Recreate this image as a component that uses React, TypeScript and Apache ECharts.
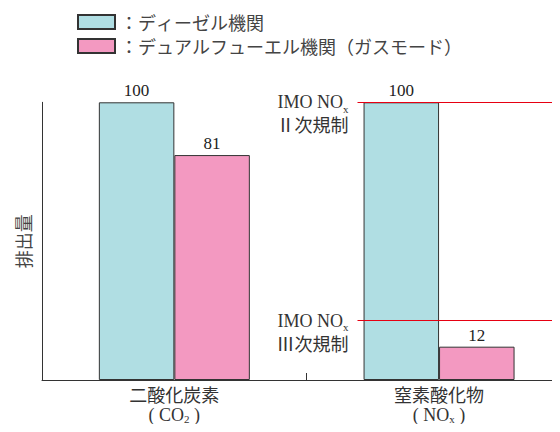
import React, { useEffect, useRef } from "react";
import * as echarts from "echarts";

const categories = ["二酸化炭素\n( CO{sub|2} )", "窒素酸化物\n( NO{sub|x} )"];
const seriesNames = ["ディーゼル機関", "デュアルフューエル機関（ガスモード）"];
const dieselValues = [100, 100];
const dualFuelValues = [81, 12];
const regulationLevels = [100, 21.4];
const regulationLabels = ["{a|IMO NO}{s|x}\n{a|Ⅱ次規制}", "{a|IMO NO}{s|x}\n{a|Ⅲ次規制}"];
const yAxisName = "排出量";

const SERIF = "'Liberation Serif', 'Noto Sans CJK JP', serif";
const JP = "'Noto Sans CJK JP', sans-serif";

export default function App() {
  const ref = useRef<HTMLDivElement>(null);
  useEffect(() => {
    if (!ref.current) return;
    const chart = echarts.init(ref.current, undefined, { renderer: "svg" });
    const markData = regulationLevels.map((v, i) => [
      {
        x: 357.5,
        yAxis: v,
        label: { formatter: regulationLabels[i] },
      },
      { x: 560, yAxis: v },
    ]);
    const catLabels = categories.map((c) =>
      c
        .split("\n")
        .map((line) => line.replace(/^([^{]+)/, "{t|$1}").replace(/\}([^{]+)$/, "}{t|$1}"))
        .join("\n")
    );
    chart.setOption({
      animation: false,
      legend: {
        orient: "vertical",
        left: 72,
        top: 8,
        itemWidth: 37,
        itemHeight: 14,
        itemGap: 6,
        icon: "rect",
        data: seriesNames,
        formatter: (n: string) =>
          Array.from("：" + n)
            .map((ch) => `{c|${ch}}`)
            .join(""),
        textStyle: {
          fontSize: 18,
          lineHeight: 18,
          color: "#444",
          fontFamily: JP,
          rich: {
            c: { width: 18, lineHeight: 18, align: "center", fontSize: 18, color: "#444", fontFamily: JP },
          },
        },
        selectedMode: false,
      },
      grid: {
        left: 42,
        top: 102.3,
        bottom: 52,
        width: 529.4,
        containLabel: false,
        outerBoundsMode: "none",
      },
      xAxis: {
        type: "category",
        data: catLabels,
        axisLine: { lineStyle: { color: "#333", width: 1 } },
        axisTick: { show: true, inside: true, length: 7, lineStyle: { color: "#333" } },
        axisLabel: {
          interval: 0,
          margin: 6,
          fontSize: 18,
          lineHeight: 19,
          color: "#333",
          fontFamily: SERIF,
          rich: {
            t: { fontSize: 18, lineHeight: 19, color: "#333", fontFamily: SERIF },
            sub: { fontSize: 11, lineHeight: 11, verticalAlign: "bottom", color: "#333", fontFamily: SERIF },
          },
        },
      },
      yAxis: {
        type: "value",
        min: 0,
        max: 100,
        name: yAxisName,
        nameLocation: "middle",
        nameGap: 10,
        nameTextStyle: { fontSize: 18, color: "#444", fontFamily: JP },
        axisLine: { show: true, lineStyle: { color: "#333", width: 1 } },
        axisTick: { show: false },
        axisLabel: { show: false },
        splitLine: { show: false },
      },
      series: [
        {
          name: seriesNames[0],
          type: "bar",
          data: dieselValues,
          barWidth: 75.5,
          barGap: "0%",
          itemStyle: { color: "#b0dee3", borderColor: "#333", borderWidth: 1 },
          label: {
            show: true,
            position: "top",
            distance: 3,
            fontSize: 17,
            color: "#222",
            fontFamily: SERIF,
          },
          markLine: {
            silent: true,
            symbol: ["none", "none"],
            lineStyle: { color: "#e60012", width: 1, type: "solid" },
            label: {
              show: true,
              position: "start",
              distance: 9,
              fontSize: 18,
              lineHeight: 24,
              padding: [24, 0, 0, 0],
              color: "#333",
              fontFamily: SERIF,
              rich: {
                a: { fontSize: 18, lineHeight: 24, color: "#333", fontFamily: SERIF },
                s: { fontSize: 11, lineHeight: 11, verticalAlign: "bottom", color: "#333", fontFamily: SERIF },
              },
            },
            emphasis: { disabled: true },
            data: markData,
          },
        },
        {
          name: seriesNames[1],
          type: "bar",
          data: dualFuelValues,
          barWidth: 75.5,
          barGap: "0%",
          itemStyle: { color: "#f399c1", borderColor: "#333", borderWidth: 1 },
          label: {
            show: true,
            position: "top",
            distance: 3,
            fontSize: 17,
            color: "#222",
            fontFamily: SERIF,
          },
        },
      ],
    });
    return () => chart.dispose();
  }, []);
  return <div ref={ref} style={{ width: 560, height: 432, margin: -8 }} />;
}
